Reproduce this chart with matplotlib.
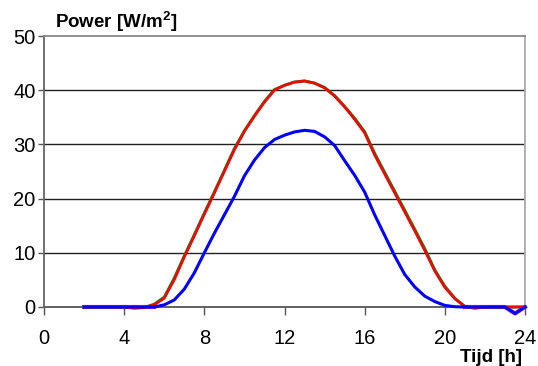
import numpy as np
import matplotlib.pyplot as plt

plt.rcParams['font.family'] = ['Liberation Sans', 'DejaVu Sans']

# Hours of the day (half hour steps)
tijd = [2, 2.5, 3, 3.5, 4, 4.5, 5, 5.5, 6, 6.5, 7, 7.5, 8, 8.5, 9, 9.5,
        10, 10.5, 11, 11.5, 12, 12.5, 13, 13.5, 14, 14.5, 15, 15.5, 16, 16.5,
        17, 17.5, 18, 18.5, 19, 19.5, 20, 20.5, 21, 21.5, 22, 22.5, 23, 23.5, 24]

# Power [W/m2] per series
groen = [0, 0, 0, 0, 0, -0.2, -0.1, 0.5, 1.8, 5.3, 9.4, 13.3, 17.3, 21.2, 25.2, 29.2,
         32.5, 35.3, 37.9, 40.1, 40.9, 41.5, 41.7, 41.3, 40.5, 39.0, 37.0, 34.8, 32.3, 28.3,
         24.8, 21.3, 17.8, 14.3, 10.7, 6.8, 3.8, 1.6, 0.1, -0.2, 0, 0, 0, 0, 0]
rood = [0, 0, 0, 0, 0, -0.2, -0.1, 0.4, 1.6, 5.0, 9.2, 13.1, 17.1, 21.0, 25.0, 29.0,
        32.4, 35.2, 37.8, 40.0, 40.9, 41.5, 41.7, 41.3, 40.4, 38.9, 36.9, 34.6, 32.1, 28.0,
        24.5, 21.0, 17.5, 14.0, 10.4, 6.6, 3.6, 1.5, 0.1, -0.2, 0, 0, 0, 0, 0]
blauw = [0, 0, 0, 0, 0, 0, 0, 0, 0.4, 1.3, 3.3, 6.3, 10.0, 13.6, 17.0, 20.4,
         24.2, 27.1, 29.4, 30.9, 31.7, 32.3, 32.6, 32.4, 31.4, 29.8, 27.0, 24.3, 21.2, 17.0,
         13.2, 9.4, 6.0, 3.7, 2.0, 1.0, 0.3, 0.05, 0, 0, 0, 0, 0, -1.2, 0]
paars = [0, 0, 0, 0, 0, 0, 0, 0, np.nan, np.nan, np.nan, np.nan, np.nan, np.nan, np.nan, np.nan,
         np.nan, np.nan, np.nan, np.nan, np.nan, np.nan, np.nan, np.nan, np.nan, np.nan, np.nan,
         np.nan, np.nan, np.nan, np.nan, np.nan, np.nan, np.nan, np.nan, np.nan, np.nan, np.nan,
         0, 0, 0, 0, 0, -1.2, 0]

x_ticks = [0, 4, 8, 12, 16, 20, 24]
y_ticks = [0, 10, 20, 30, 40, 50]

fig = plt.figure(figsize=(5.38, 3.66), dpi=100)
ax = fig.add_axes([44/538, 1 - 307/366, (525 - 44)/538, (307 - 36)/366])

# horizontal grid lines
for v in y_ticks[1:-1]:
    ax.axhline(v, color='#222222', lw=1.0, zorder=1)

ax.plot(tijd, paars, color='#cc33cc', lw=3.0, zorder=2, clip_on=False)
ax.plot(tijd, groen, color='#1a7a1a', lw=2.2, zorder=3, clip_on=False)
ax.plot(tijd, rood, color='#ff0000', lw=1.8, zorder=4, clip_on=False)
ax.plot(tijd, blauw, color='#0000ff', lw=2.2, zorder=5, clip_on=False)

ax.set_xlim(0, 24)
ax.set_ylim(0, 50)
ax.set_xticks(x_ticks)
ax.set_yticks(y_ticks)
ax.tick_params(axis='both', labelsize=14.5, colors='#555555', labelcolor='black')
ax.tick_params(axis='x', direction='out', length=6, width=1, pad=10)
ax.tick_params(axis='y', direction='out', length=4, width=1, pad=2)

ax.spines['left'].set_color('#666666')
ax.spines['bottom'].set_color('#555555')
ax.spines['top'].set_color('#888888')
ax.spines['right'].set_color('#aaaaaa')
for s in ax.spines.values():
    s.set_linewidth(1.3)
ax.spines['bottom'].set_zorder(1.5)

fig.text(55/538, 1 - 28/366, 'Power [W/m$^\\mathregular{2}$]', fontsize=13.5,
         fontweight='bold', ha='left', va='baseline')
fig.text(522/538, 1 - 362/366, 'Tijd [h]', fontsize=13.5,
         fontweight='bold', ha='right', va='baseline')

fig.savefig('out.png', dpi=100)
